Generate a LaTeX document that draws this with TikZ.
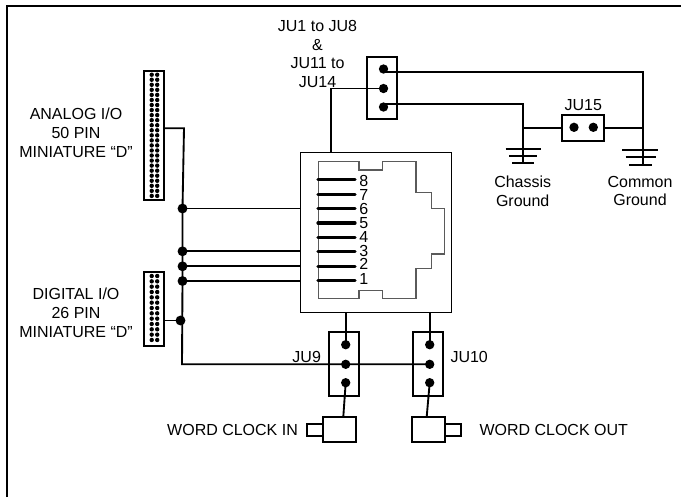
\documentclass[tikz,border=0pt]{standalone}
\usepackage{fontspec}
\setmainfont{Liberation Sans}

\tikzset{every picture/.style={line width=0.75pt}}
\tikzset{
	wire/.style={line width=1.4pt},
	pinbar/.style={line width=2.4pt,line cap=round},
	housing/.style={draw,line width=1.4pt,fill=white,inner sep=0pt,outer sep=0pt,rectangle},
	pindot/.style={circle,fill=black,inner sep=0pt,outer sep=0pt,minimum size=7pt},
	junction/.style={circle,fill=black,inner sep=0pt,outer sep=0pt,minimum size=7.4pt},
	tinydot/.style={circle,fill=black,inner sep=0pt,outer sep=0pt,minimum size=3.3pt},
	label/.style={font=\fontsize{12}{14.2}\selectfont,inner sep=0pt,align=center},
}

\begin{document}
\begin{tikzpicture}[x=0.75pt,y=0.75pt,yscale=-1,xscale=1]
	\useasboundingbox (0,0) rectangle (692,497);

	%Outer frame
	\draw [line width=1.5pt] (7,497) -- (7,6) -- (681,6);

	%Housings of the D connectors
	\node [housing,minimum width=15pt,minimum height=97.2pt] (analog) at (154.3,135.5) {};
	\node [housing,minimum width=15pt,minimum height=55.3pt] (digital) at (154.3,309.2) {};
	\foreach \row in {0,...,24} {
		\node [tinydot] at (151.7,74.7+5.05*\row) {};
		\node [tinydot] at (157.2,74.7+5.05*\row) {};
	}
	\foreach \row in {0,...,12} {
		\node [tinydot] at (151.7,276+5.33*\row) {};
		\node [tinydot] at (157.2,276+5.33*\row) {};
	}

	%RJ socket
	\node [draw,line width=0.8pt,inner sep=0pt,minimum width=113.6pt,minimum height=119.7pt] (socket) at (376,232.5) {};
	\draw [line width=0.8pt,color={rgb, 255:red, 90; green, 90; blue, 90 }] (318.3,161.7) -- (359,161.7) -- (359,170) -- (382.3,170) -- (382.3,161.7) -- (416,161.7) -- (416,192.3) -- (431.7,192.3) -- (431.7,208.3) -- (444.3,208.3) -- (444.3,254) -- (431.7,254) -- (431.7,268.3) -- (416,268.3) -- (416,298.3) -- (382.3,298.3) -- (382.3,290.3) -- (359,290.3) -- (359,298.3) -- (318.3,298.3) -- cycle ;
	\foreach \name/\ypos/\ytext in {8/179.7/180.7,7/194.3/195,6/208.7/209,5/223/223,4/237.3/237.3,3/251.7/250.7,2/266.3/264.3,1/280.7/279.3} {
		\coordinate (pinL\name) at (318,\ypos);
		\coordinate (pinR\name) at (355,\ypos);
		\draw [pinbar] (pinL\name) -- (pinR\name);
		\node [label] (pinT\name) at (363.7,\ytext) {\name};
	}

	%Jumper blocks
	\node [housing,minimum width=22.8pt,minimum height=47pt] (juA) at (382.2,88) {};
	\node [housing,minimum width=31.3pt,minimum height=19.3pt] (juB) at (583.2,127.8) {};
	\node [housing,minimum width=22.8pt,minimum height=47.5pt] (juC) at (344.2,364) {};
	\node [housing,minimum width=22.8pt,minimum height=47.5pt] (juD) at (428.2,364) {};

	\node [pindot] (a1) at (383.5,69) {};
	\node [pindot] (a2) at (383.5,88.5) {};
	\node [pindot] (a3) at (383.5,107) {};
	\node [pindot] (b1) at (574,127.3) {};
	\node [pindot] (b2) at (593.3,127.3) {};
	\node [pindot] (c1) at (345.7,344.7) {};
	\node [pindot] (c2) at (345.7,364.3) {};
	\node [pindot] (c3) at (345.7,382.7) {};
	\node [pindot] (d1) at (429.7,344.7) {};
	\node [pindot] (d2) at (429.7,364.3) {};
	\node [pindot] (d3) at (429.7,382.7) {};

	%Junctions on the left bus
	\node [junction] (j1) at (182.5,208.5) {};
	\node [junction] (j2) at (182.5,251.3) {};
	\node [junction] (j3) at (182.5,266.3) {};
	\node [junction] (j4) at (182.5,281) {};
	\node [junction] (j5) at (180.5,320.5) {};

	%Coaxial connectors
	\node [housing,minimum width=24.8pt,minimum height=18.8pt] (bncIn) at (339.8,429.2) {};
	\node [housing,minimum width=12.2pt,minimum height=9.3pt] (stubIn) at (315.2,429.8) {};
	\node [housing,minimum width=24.8pt,minimum height=18.8pt] (bncOut) at (428.2,429.2) {};
	\node [housing,minimum width=12pt,minimum height=9.3pt] (stubOut) at (452.7,429.8) {};

	%Wires
	\coordinate (busTop) at (184,128.3);
	\coordinate (busEnd) at (182,364.3);
	\coordinate (chassisBend) at (523.3,104.3);
	\coordinate (chassisEnd) at (523.3,163.5);
	\coordinate (chassisTee) at (523.3,128.3);
	\coordinate (commonBend) at (643,71.7);
	\coordinate (commonEnd) at (643,164.7);
	\coordinate (commonTee) at (643,128.3);
	\draw [wire] (164.3,128.3) -- (busTop) -- (j1.center) -- (j4.center) -- (busEnd) -- (c2.center) -- (d2.center);
	\draw [wire] (digital.east |- j5) -- (j5);
	\draw [wire] (j1) -- (j1 -| socket.west);
	\draw [wire] (j2) -- (j2 -| socket.west);
	\draw [wire] (j3) -- (j3 -| socket.west);
	\draw [wire] (j4) -- (j4 -| socket.west);
	\draw [wire] (a2.center) -- (331,88.5) -- (331,152.7);
	\draw [wire] (383.5,71.7) -- (commonBend) -- (commonEnd);
	\draw [wire] (383.5,104.3) -- (chassisBend) -- (chassisEnd);
	\draw [wire] (chassisTee) -- (chassisTee -| juB.west);
	\draw [wire] (juB.east |- commonTee) -- (commonTee);
	\draw [wire] (c1.center) -- (c1 |- socket.south);
	\draw [wire] (d1.center) -- (d1 |- socket.south);
	\draw [wire] (c3.center) -- (343.3,416.7);
	\draw [wire] (d3.center) -- (426.7,416.7);

	%Ground symbols
	\draw [wire] (505.7,149.3) -- (541,149.3) (509.3,156.3) -- (536.7,156.3) (512.3,163.3) -- (534.3,163.3);
	\draw [wire] (622.3,150.3) -- (658.3,150.3) (625.7,157.3) -- (655.7,157.3) (629.3,164.7) -- (652,164.7);

	% Text Node
	\node [label] (analogText) at (76,133) {ANALOG I/O\\50 PIN\\MINIATURE “D”};
	\node [label] (digitalText) at (76,313) {DIGITAL I/O\\26 PIN\\MINIATURE “D”};
	\node [label] (juAText) at (317.5,54) {JU1 to JU8\\\&\\JU11 to\\JU14};
	\node [label] (juBText) at (583.3,104.7) {JU15};
	\node [label] (juCText) at (306.7,356.7) {JU9};
	\node [label,anchor=west] (juDText) at (450,356.7) {JU10};
	\node [label] (chassisText) at (522.7,191) {Chassis\\Ground};
	\node [label] (commonText) at (640,191) {Common\\Ground};
	\node [label,anchor=west] (inText) at (166.7,430) {WORD CLOCK IN};
	\node [label,anchor=west] (outText) at (479,430) {WORD CLOCK OUT};

\end{tikzpicture}
\end{document}
